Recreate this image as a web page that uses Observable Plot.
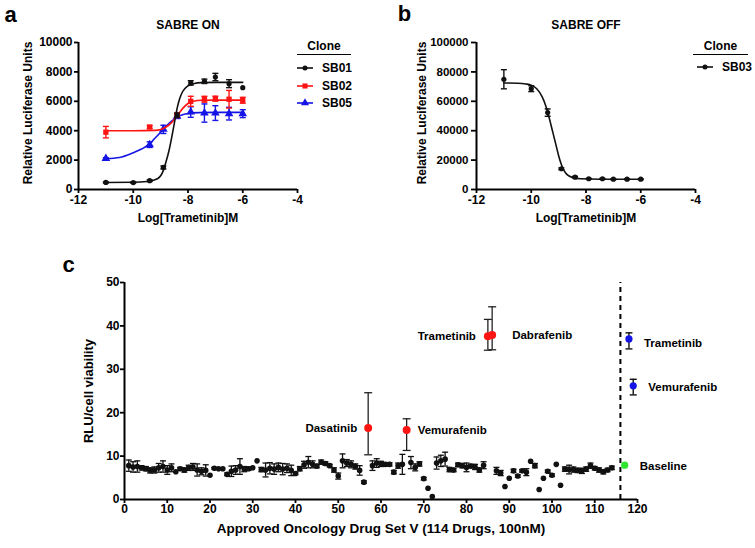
<!DOCTYPE html>
<html>
<head>
<meta charset="utf-8">
<script src="https://cdn.jsdelivr.net/npm/d3@7"></script>
<script src="https://cdn.jsdelivr.net/npm/@observablehq/plot@0.6"></script>
<style>
  html, body { margin: 0; padding: 0; background: #fff; }
  #fig { position: relative; width: 755px; height: 548px; overflow: hidden;
         font-family: "Liberation Sans", Arial, Helvetica, sans-serif; font-weight: bold; color: #000; }
  #fig > div, #fig > svg { position: absolute; }
  .lg { font-size: 12px; line-height: 16px; white-space: nowrap; }
</style>
</head>
<body>
<div id="fig"></div>
<script>
// ---------------- DATA ----------------
// Panel a: SABRE ON (Log[Trametinib] M vs Relative Luciferase Units)
const sb01X = [-11, -10, -9.4, -8.9, -8.4, -7.9, -7.4, -7, -6.5, -6];
const sb01Y = [480, 470, 600, 1500, 5050, 7250, 7360, 7650, 7200, 6930];
const sb01Err = [40, 40, 60, 100, 150, 150, 150, 250, 270, 0];
const sb01CurveX = [-11, -10, -9.5, -9.1, -8.9, -8.8, -8.7, -8.6, -8.5, -8.4, -8.3, -8.2, -8.0, -7.8, -7.5, -7, -6];
const sb01CurveY = [480, 490, 540, 750, 1300, 1900, 2600, 3500, 4500, 5500, 6200, 6650, 7050, 7200, 7270, 7290, 7290];

const sb02X = [-11, -9.4, -8.4, -7.9, -7.4, -7, -6.5, -6];
const sb02Y = [3900, 4250, 5050, 6000, 6140, 6180, 6140, 6070];
const sb02Err = [390, 100, 150, 340, 200, 170, 600, 200];
const sb02CurveX = [-11, -10, -9.2, -9.0, -8.8, -8.6, -8.4, -8.2, -8.0, -7.8, -7.5, -7, -6];
const sb02CurveY = [4000, 4000, 4020, 4080, 4250, 4550, 5000, 5500, 5850, 6000, 6070, 6080, 6080];

const sb05X = [-11, -9.4, -8.9, -8.4, -7.9, -7.4, -7, -6.5, -6];
const sb05Y = [2110, 3050, 4090, 4980, 5270, 5200, 5200, 5160, 5160];
const sb05Err = [50, 190, 280, 150, 360, 620, 500, 430, 270];
const sb05CurveX = [-11, -10.5, -10, -9.7, -9.4, -9.2, -9.0, -8.8, -8.6, -8.4, -8.2, -8.0, -7.6, -7, -6];
const sb05CurveY = [2100, 2180, 2500, 2750, 3100, 3500, 3900, 4300, 4650, 4920, 5080, 5170, 5230, 5250, 5250];

// Panel b: SABRE OFF
const sb03X = [-11, -10, -9.4, -8.9, -8.4, -7.9, -7.4, -7, -6.5, -6];
const sb03Y = [75000, 68600, 52300, 14100, 8400, 7300, 7300, 7000, 7000, 7000];
const sb03Err = [6500, 2000, 2500, 600, 500, 300, 300, 300, 300, 300];
const sb03CurveX = [-11, -10.5, -10.2, -10, -9.8, -9.6, -9.5, -9.4, -9.3, -9.2, -9.1, -9.0, -8.9, -8.8, -8.7, -8.5, -8.2, -7.5, -6];
const sb03CurveY = [72500, 72300, 71800, 71000, 68500, 63000, 58500, 52500, 45500, 38000, 30500, 23000, 17000, 12800, 10300, 8200, 7300, 7000, 7000];

const axisTicksX = [-12, -10, -8, -6, -4];
const axisTicksA = [0, 2000, 4000, 6000, 8000, 10000];
const axisTicksB = [0, 20000, 40000, 60000, 80000, 100000];

// Panel c: Approved Oncology Drug Set V screen
const drugIndex = [1,2,3,4,5,6,7,8,9,10,11,12,13,14,15,16,17,18,19,20,21,22,23,24,25,26,27,28,29,30,
  31,32,33,34,35,36,37,38,39,40,41,42,43,44,45,46,47,48,49,50,51,52,53,54,55,56,58,59,60,61,62,63,64,65,
  67,68,69,70,71,72,73,74,75,76,77,78,79,80,81,82,83,84,87,88,89,90,91,92,93,94,95,96,97,98,99,100,
  101,102,103,104,105,106,107,108,109,110,111,112,113,114];
const drugValue = [7.8,7.5,7.6,7.3,7.1,6.7,6.8,7.3,7.6,6.8,7.3,6.4,7.1,6.8,7.3,7.5,6.8,6.5,6.7,5.6,7.2,7.1,7.1,5.8,6.5,6.8,7.6,7.0,7.1,7.3,
  8.9,6.9,6.8,7.2,7.0,7.4,7.0,7.2,6.7,6.0,7.1,8.0,8.6,8.1,7.7,8.6,8.3,7.8,6.8,5.4,8.9,8.4,8.1,7.6,6.7,4.0,7.8,8.4,8.2,8.1,8.1,6.3,7.8,8.1,
  8.5,7.4,8.2,4.8,2.6,0.7,8.4,8.9,9.3,6.9,6.8,8.0,7.8,7.4,7.7,7.5,6.8,7.9,6.6,6.1,3.0,4.9,6.6,5.4,6.6,6.3,8.8,7.8,2.3,4.9,6.5,5.6,
  8.1,3.3,7.0,6.9,6.9,6.7,6.6,7.0,7.8,7.2,6.8,6.4,6.8,7.3];
const drugError = [1.3,1.2,1.3,0.5,0.5,0.6,0.7,1.0,1.3,1.0,0.9,0,0.3,0.5,0.6,0.8,1.4,0.8,1.3,0,0.2,0,0,0.3,1.2,1.0,1.8,0.6,0.4,0,
  0,0.5,1.6,1.3,1.2,1.0,1.3,1.0,1.2,0.3,0.5,0.8,1.3,0.8,0.4,0.5,0.4,0.3,0.5,0.7,1.6,0.8,0.8,0.6,1.1,0.3,1.1,1.0,0.6,0.4,0.4,0.4,0.6,2.3,
  1.4,0.8,0.5,0.3,0,0,1.4,1.3,1.6,0.5,0.4,0.4,0.5,1.0,0.4,0.6,0.5,0.8,0.8,0.6,0,0,0.4,0.3,0.3,0.8,0,0.5,0,0,0.3,0.3,
  0,0,0.5,1.0,0.6,0.5,0.6,0.5,0.6,0.4,0.5,0.5,0.4,0.4];

const hitName = ["Dasatinib", "Vemurafenib", "Trametinib", "Dabrafenib"];
const hitIndex = [57, 66, 85, 86];
const hitValue = [16.5, 16.0, 37.6, 37.9];
const hitLow = [10.3, 11.3, 34.4, 34.5];
const hitHigh = [24.6, 18.6, 41.5, 44.4];

const ctrlName = ["Trametinib", "Vemurafenib"];
const ctrlIndex = [118, 119];
const ctrlValue = [37.0, 26.2];
const ctrlLow = [34.7, 24.1];
const ctrlHigh = [38.4, 27.7];

const baseName = ["Baseline"];
const baseIndex = [117];
const baseValue = [7.9];

const cTicksX = [0, 10, 20, 30, 40, 50, 60, 70, 80, 90, 100, 110, 120];
const cTicksY = [0, 10, 20, 30, 40, 50];
const dividerAt = 116;

// ---------------- STYLE ----------------
const FONT = '"Liberation Sans", Arial, Helvetica, sans-serif';
const BLACK = "#111", RED = "#ff1414", BLUE = "#1414e6", GREEN = "#2ee62e";
const fig = document.getElementById("fig");
const capSymbol = { draw(ctx, size) { const r = Math.sqrt(size / Math.PI); ctx.moveTo(-r, 0); ctx.lineTo(r, 0); } };
const svgStyle = { fontFamily: FONT, fontWeight: "bold", fontSize: "12px", background: "transparent", overflow: "visible" };
const txt = (s, o) => Plot.text([s], { text: d => d, fontFamily: FONT, fontWeight: "bold", fill: "#000",
  textAnchor: "middle", lineAnchor: "middle", ...o });

function errorBars(rows, stroke, cap, sw) {
  const f = rows.filter(d => d.hi > d.lo);
  return [
    Plot.ruleX(f, { x: "x", y1: "lo", y2: "hi", stroke, strokeWidth: sw }),
    Plot.dot(f, { x: "x", y: "hi", symbol: capSymbol, r: cap, stroke, strokeWidth: sw, fill: "none" }),
    Plot.dot(f, { x: "x", y: "lo", symbol: capSymbol, r: cap, stroke, strokeWidth: sw, fill: "none" })
  ];
}

function seriesMarks(xs, ys, es, cxs, cys, color, symbol, r) {
  const pts = xs.map((x, i) => ({ x, y: ys[i], lo: ys[i] - es[i], hi: ys[i] + es[i] }));
  const curve = cxs.map((x, i) => ({ x, y: cys[i] }));
  return [
    Plot.line(curve, { x: "x", y: "y", curve: "monotone-x", stroke: color, strokeWidth: 1.6 }),
    ...errorBars(pts, color, 3, 1.4),
    Plot.dot(pts, { x: "x", y: "y", symbol, r, fill: color, stroke: "none" })
  ];
}

function addAt(el, left, top) { el.style.left = left + "px"; el.style.top = top + "px"; fig.appendChild(el); return el; }

// ---------------- PANEL A ----------------
const plotA = Plot.plot({
  width: 380, height: 230,
  marginLeft: 78, marginRight: 83, marginTop: 42, marginBottom: 41,
  x: { domain: [-12, -4] },
  y: { domain: [0, 10000] },
  style: svgStyle,
  marks: [
    Plot.axisX({ ticks: axisTicksX, tickFormat: d => String(d), tickSize: 4, tickPadding: 2, strokeWidth: 1.8, label: null, fontSize: 12 }),
    Plot.axisY({ ticks: axisTicksA, tickFormat: d3.format("d"), tickSize: 4, tickPadding: 2, strokeWidth: 1.8, label: null, fontSize: 12 }),
    Plot.ruleX([-12], { stroke: "#000", strokeWidth: 2 }),
    Plot.ruleY([0], { stroke: "#000", strokeWidth: 2 }),
    ...seriesMarks(sb05X, sb05Y, sb05Err, sb05CurveX, sb05CurveY, BLUE, "triangle", 3.2),
    ...seriesMarks(sb02X, sb02Y, sb02Err, sb02CurveX, sb02CurveY, RED, "square", 3),
    ...seriesMarks(sb01X, sb01Y, sb01Err, sb01CurveX, sb01CurveY, BLACK, "circle", 2.6),
    txt("SABRE ON", { frameAnchor: "top", dy: -17, fontSize: 12 }),
    txt("Log[Trametinib]M", { frameAnchor: "bottom", dy: 29, fontSize: 12 }),
    txt("Relative Luciferase Units", { frameAnchor: "left", dx: -50, dy: -3, rotate: -90, fontSize: 12 }),
    txt("a", { frameAnchor: "top-left", dx: -68, dy: -28, fontSize: 22 })
  ]
});
addAt(plotA, 0, 0);

// ---------------- PANEL B ----------------
const plotB = Plot.plot({
  width: 375, height: 230,
  marginLeft: 96, marginRight: 60, marginTop: 42, marginBottom: 41,
  x: { domain: [-12, -4] },
  y: { domain: [0, 100000] },
  style: svgStyle,
  marks: [
    Plot.axisX({ ticks: axisTicksX, tickFormat: d => String(d), tickSize: 4, tickPadding: 2, strokeWidth: 1.8, label: null, fontSize: 12 }),
    Plot.axisY({ ticks: axisTicksB, tickFormat: d3.format("d"), tickSize: 5, tickPadding: 3, strokeWidth: 1.8, label: null, fontSize: 11.5 }),
    Plot.ruleX([-12], { stroke: "#000", strokeWidth: 2 }),
    Plot.ruleY([0], { stroke: "#000", strokeWidth: 2 }),
    ...seriesMarks(sb03X, sb03Y, sb03Err, sb03CurveX, sb03CurveY, BLACK, "circle", 2.6),
    txt("SABRE OFF", { frameAnchor: "top", dy: -17, fontSize: 12 }),
    txt("Log[Trametinib]M", { frameAnchor: "bottom", dy: 29, fontSize: 12 }),
    txt("Relative Luciferase Units", { frameAnchor: "left", dx: -54, dy: -3, rotate: -90, fontSize: 12 }),
    txt("b", { frameAnchor: "top-left", dx: -72, dy: -29, fontSize: 22 })
  ]
});
addAt(plotB, 380, 0);

// ---------------- PANEL C ----------------
const drugs = drugIndex.map((x, i) => ({ x, y: drugValue[i], lo: drugValue[i] - drugError[i], hi: drugValue[i] + drugError[i] }));
const hits = hitIndex.map((x, i) => ({ name: hitName[i], x, y: hitValue[i], lo: hitLow[i], hi: hitHigh[i] }));
const ctrls = ctrlIndex.map((x, i) => ({ name: ctrlName[i], x, y: ctrlValue[i], lo: ctrlLow[i], hi: ctrlHigh[i] }));
const base = baseIndex.map((x, i) => ({ name: baseName[i], x, y: baseValue[i] }));
const hitLabelOffset = { Dasatinib: [-11, "end"], Vemurafenib: [11, "start"], Trametinib: [-12, "end"], Dabrafenib: [20, "start"] };
const ctrlLabelOffset = { Trametinib: [15, 4], Vemurafenib: [15, 2] };

const plotC = Plot.plot({
  width: 755, height: 308,
  marginLeft: 124, marginRight: 118, marginTop: 42, marginBottom: 49,
  x: { domain: [0, 120] },
  y: { domain: [0, 50] },
  style: svgStyle,
  marks: [
    Plot.axisX({ ticks: cTicksX, tickFormat: d => String(d), tickSize: 4, tickPadding: 1, strokeWidth: 1.8, label: null, fontSize: 12 }),
    Plot.axisY({ ticks: cTicksY, tickFormat: d => String(d), tickSize: 4, tickPadding: 1, strokeWidth: 1.8, label: null, fontSize: 12 }),
    Plot.ruleX([0], { stroke: "#000", strokeWidth: 2 }),
    Plot.ruleY([0], { stroke: "#000", strokeWidth: 2 }),
    Plot.ruleX([dividerAt], { y1: 0, y2: 50, stroke: "#000", strokeWidth: 2, strokeDasharray: "5,4" }),
    ...errorBars(drugs, BLACK, 3, 1.3),
    Plot.dot(drugs, { x: "x", y: "y", r: 2.8, fill: BLACK }),
    ...errorBars(hits, "#222", 4, 1.3),
    Plot.dot(hits, { x: "x", y: "y", r: 4, fill: RED }),
    ...errorBars(ctrls, "#111", 3.5, 1.4),
    Plot.dot(ctrls, { x: "x", y: "y", r: 3.6, fill: BLUE }),
    Plot.dot(base, { x: "x", y: "y", r: 3.6, fill: GREEN }),
    ...hits.map(h => Plot.text([h], { x: "x", y: "y", text: "name", dx: hitLabelOffset[h.name][0], textAnchor: hitLabelOffset[h.name][1],
      fontFamily: FONT, fontWeight: "bold", fontSize: 11.5, fill: "#000" })),
    ...ctrls.map(c => Plot.text([c], { x: "x", y: "y", text: "name", dx: ctrlLabelOffset[c.name][0], dy: ctrlLabelOffset[c.name][1], textAnchor: "start",
      fontFamily: FONT, fontWeight: "bold", fontSize: 11.5, fill: "#000" })),
    Plot.text(base, { x: "x", y: "y", text: "name", dx: 15, dy: 1, textAnchor: "start", fontFamily: FONT, fontWeight: "bold", fontSize: 11.5, fill: "#000" }),
    txt("Approved Oncology Drug Set V (114 Drugs, 100nM)", { frameAnchor: "bottom", dx: 0, dy: 29, fontSize: 13.5 }),
    txt("RLU/cell viability", { frameAnchor: "left", dx: -36, rotate: -90, fontSize: 13 }),
    txt("c", { frameAnchor: "top-left", dx: -56, dy: -18, fontSize: 22 })
  ]
});
addAt(plotC, 0, 240);

// ---------------- LEGENDS ----------------
function legend(left, width, swL, swR, textL, items) {
  const t = document.createElement("div");
  t.className = "lg"; t.style.width = width + "px"; t.style.textAlign = "center"; t.textContent = "Clone";
  addAt(t, left, 38);
  const rule = document.createElement("div");
  rule.style.width = width + "px"; rule.style.height = "0"; rule.style.borderTop = "1.6px solid #000";
  addAt(rule, left, 54);
  items.forEach(it => {
    const ns = "http://www.w3.org/2000/svg";
    const s = document.createElementNS(ns, "svg");
    const w = swR - swL;
    s.setAttribute("width", w); s.setAttribute("height", 10);
    const ln = document.createElementNS(ns, "line");
    ln.setAttribute("x1", 0); ln.setAttribute("x2", w); ln.setAttribute("y1", 5); ln.setAttribute("y2", 5);
    ln.setAttribute("stroke", it.color); ln.setAttribute("stroke-width", 1.6);
    s.appendChild(ln);
    const sym = document.createElementNS(ns, "path");
    sym.setAttribute("d", d3.symbol(it.symbol, it.size)());
    sym.setAttribute("transform", `translate(${w / 2},5)`);
    sym.setAttribute("fill", it.color);
    s.appendChild(sym);
    addAt(s, swL, it.y - 5);
    const lab = document.createElement("div");
    lab.className = "lg"; lab.textContent = it.name;
    addAt(lab, textL, it.y - 8);
  });
}
legend(297, 54, 297, 313, 322, [
  { name: "SB01", color: BLACK, symbol: d3.symbolCircle, size: 20, y: 68 },
  { name: "SB02", color: RED, symbol: d3.symbolSquare, size: 26, y: 86 },
  { name: "SB05", color: BLUE, symbol: d3.symbolTriangle, size: 28, y: 103 }
]);
legend(693, 55, 697, 713, 722, [
  { name: "SB03", color: BLACK, symbol: d3.symbolCircle, size: 20, y: 67 }
]);
</script>
</body>
</html>
